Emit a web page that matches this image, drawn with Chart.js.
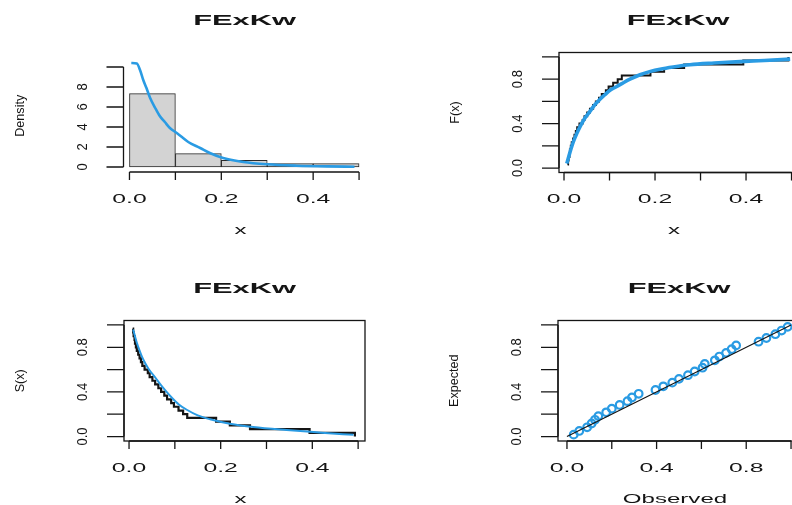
<!DOCTYPE html>
<html>
<head>
<meta charset="utf-8">
<script src="https://cdn.jsdelivr.net/npm/chart.js@4.4.1/dist/chart.umd.min.js"></script>
<style>
html, body { margin: 0; padding: 0; background: #fff; width: 792px; height: 505px; overflow: hidden; }
canvas { position: absolute; left: 0; top: 0; }
</style>
</head>
<body>
<canvas id="hist" width="830" height="505"></canvas>
<canvas id="cdf" width="830" height="505"></canvas>
<canvas id="surv" width="830" height="505"></canvas>
<canvas id="pp" width="830" height="505"></canvas>
<script>
// sample (sorted), read from the ECDF / survival steps
const sample = [0.008, 0.009, 0.01, 0.012, 0.013, 0.015, 0.017, 0.02, 0.023, 0.026, 0.029, 0.034, 0.041, 0.045, 0.051,
  0.057, 0.064, 0.07, 0.077, 0.083, 0.092, 0.098, 0.108, 0.118, 0.127, 0.19, 0.22, 0.264, 0.394, 0.493]
const ecdfY = [0.033, 0.067, 0.1, 0.133, 0.167, 0.2, 0.233, 0.267, 0.3, 0.333, 0.367, 0.4, 0.433, 0.467, 0.5,
  0.533, 0.567, 0.6, 0.633, 0.667, 0.7, 0.733, 0.767, 0.8, 0.833, 0.867, 0.9, 0.933, 0.967, 1]
const survY = [0.967, 0.933, 0.9, 0.867, 0.833, 0.8, 0.767, 0.733, 0.7, 0.667, 0.633, 0.6, 0.567, 0.533, 0.5,
  0.467, 0.433, 0.4, 0.367, 0.333, 0.3, 0.267, 0.233, 0.2, 0.167, 0.133, 0.1, 0.067, 0.033, 0]

// histogram
const binMids = [0.05, 0.15, 0.25, 0.35, 0.45]
const histDensity = [7.33, 1.33, 0.67, 0.33, 0.33]

// fitted FExKw density
const densX = [0.004, 0.016, 0.023, 0.03, 0.037, 0.045, 0.056, 0.066, 0.077, 0.088, 0.103, 0.128, 0.154, 0.175,
  0.204, 0.248, 0.299, 0.364, 0.43, 0.49]
const densY = [10.4, 10.35, 9.7, 8.7, 7.9, 6.9, 5.9, 5.1, 4.5, 3.9, 3.4, 2.5, 1.9, 1.4, 0.9, 0.5, 0.27, 0.13, 0.06, 0.03]

// fitted CDF
const cdfX = [0.006, 0.013, 0.02, 0.028, 0.035, 0.046, 0.057, 0.068, 0.079, 0.09, 0.101, 0.114, 0.127, 0.145,
  0.167, 0.19, 0.211, 0.24, 0.277, 0.33, 0.387, 0.44, 0.497]
const cdfY = [0.04, 0.14, 0.23, 0.31, 0.37, 0.45, 0.51, 0.57, 0.62, 0.66, 0.7, 0.73, 0.76, 0.8, 0.84, 0.87, 0.89,
  0.91, 0.93, 0.945, 0.958, 0.968, 0.98]

// fitted survival
const survFitX = [0.009, 0.017, 0.024, 0.031, 0.042, 0.057, 0.068, 0.082, 0.093, 0.108, 0.126, 0.15, 0.177, 0.22,
  0.271, 0.344, 0.42, 0.49]
const survFitY = [0.96, 0.84, 0.76, 0.69, 0.61, 0.53, 0.47, 0.4, 0.35, 0.29, 0.24, 0.19, 0.155, 0.115, 0.085, 0.058,
  0.035, 0.015]

// P-P plot
const ppObserved = [0.03, 0.055, 0.09, 0.11, 0.125, 0.14, 0.175, 0.2, 0.235, 0.27, 0.29, 0.32, 0.395, 0.43, 0.47,
  0.5, 0.54, 0.57, 0.605, 0.615, 0.66, 0.68, 0.71, 0.735, 0.755, 0.855, 0.89, 0.93, 0.958, 0.985]
const ppExpected = [0.017, 0.05, 0.083, 0.117, 0.15, 0.183, 0.217, 0.25, 0.283, 0.317, 0.35, 0.383, 0.417, 0.45,
  0.483, 0.517, 0.55, 0.583, 0.617, 0.65, 0.683, 0.717, 0.75, 0.783, 0.817, 0.85, 0.883, 0.917, 0.95, 0.983]
const ppLine = [0, 1]

// axis ticks
const xTicksHalf = [0, 0.1, 0.2, 0.3, 0.4, 0.5]
const xLabelsHalf = ['0.0', '', '0.2', '', '0.4', '']
const xTicksUnit = [0, 0.2, 0.4, 0.6, 0.8, 1]
const xLabelsUnit = ['0.0', '', '0.4', '', '0.8', '']
const yTicksHist = [0, 2, 4, 6, 8, 10]
const yLabelsHist = ['0', '2', '4', '6', '8', '']
const yTicksUnit = [0, 0.2, 0.4, 0.6, 0.8, 1]
const yLabelsUnit = ['0.0', '', '0.4', '', '0.8', '']

const BLUE = '#2a9be3'
const INK = '#151515'
const W = 830, H = 505

function pts(xs, ys) {
  return xs.map((x, i) => ({x: x, y: ys[i]}))
}

function drawText(ctx, str, x, y, size, a, b, bold, rot) {
  ctx.save()
  ctx.translate(x, y)
  if (rot) ctx.rotate(-Math.PI / 2)
  ctx.scale(a, b)
  ctx.font = (bold ? 'bold ' : '') + size + 'px "Liberation Sans", Arial, sans-serif'
  ctx.fillStyle = INK
  ctx.textAlign = 'center'
  ctx.textBaseline = 'middle'
  ctx.fillText(str, 0, 0)
  ctx.restore()
}

// R style axes, box and titles
function rAxes(cfg) {
  return {
    id: 'rAxes',
    afterDraw(chart) {
      const ctx = chart.ctx
      const area = chart.chartArea
      const xs = chart.scales.x, ys = chart.scales.y
      const mid = (area.left + area.right) / 2
      ctx.save()
      ctx.strokeStyle = INK
      ctx.lineWidth = 1.3

      if (cfg.box) ctx.strokeRect(area.left, area.top, area.right - area.left, area.bottom - area.top)

      // x axis
      const x0 = xs.getPixelForValue(cfg.xTicks[0])
      const x1 = xs.getPixelForValue(cfg.xTicks[cfg.xTicks.length - 1])
      ctx.beginPath()
      ctx.moveTo(x0, area.bottom)
      ctx.lineTo(x1, area.bottom)
      cfg.xTicks.forEach(v => {
        const px = xs.getPixelForValue(v)
        ctx.moveTo(px, area.bottom)
        ctx.lineTo(px, area.bottom + 8)
      })
      // y axis
      const y0 = ys.getPixelForValue(cfg.yTicks[0])
      const y1 = ys.getPixelForValue(cfg.yTicks[cfg.yTicks.length - 1])
      ctx.moveTo(area.left, y0)
      ctx.lineTo(area.left, y1)
      cfg.yTicks.forEach(v => {
        const py = ys.getPixelForValue(v)
        ctx.moveTo(area.left - 17, py)
        ctx.lineTo(area.left, py)
      })
      ctx.stroke()

      cfg.xTicks.forEach((v, i) => {
        if (cfg.xLabels[i]) drawText(ctx, cfg.xLabels[i], xs.getPixelForValue(v), area.bottom + 27, 13, 1.9, 1, false, false)
      })
      cfg.yTicks.forEach((v, i) => {
        if (cfg.yLabels[i]) drawText(ctx, cfg.yLabels[i], area.left - 41, ys.getPixelForValue(v), 13, 1, 1.15, false, true)
      })

      drawText(ctx, cfg.title, mid, area.top - cfg.titleGap, 14, 2.2, 1, true, false)
      drawText(ctx, cfg.xTitle, mid - 4, area.bottom + 58, 13, 1.85, 1, false, false)
      drawText(ctx, cfg.yTitle, area.left - 103, (area.top + area.bottom) / 2, 12, 1.05, 1, false, true)
      ctx.restore()
    }
  }
}

function baseOptions(area, xr, yr) {
  return {
    responsive: false,
    animation: false,
    devicePixelRatio: 1,
    layout: {padding: {left: area[0], right: W - area[1], top: area[2], bottom: H - area[3]}},
    plugins: {legend: {display: false}, tooltip: {enabled: false}},
    scales: {
      x: {type: 'linear', display: false, offset: false, min: xr[0], max: xr[1]},
      y: {type: 'linear', display: false, min: yr[0], max: yr[1]}
    }
  }
}

// top left: histogram + density
new Chart(document.getElementById('hist'), {
  type: 'bar',
  data: {
    datasets: [
      {type: 'line', data: pts(densX, densY), borderColor: BLUE, borderWidth: 2.6, pointRadius: 0,
        cubicInterpolationMode: 'monotone', order: 0},
      {data: pts(binMids, histDensity), backgroundColor: '#d3d3d3', borderColor: '#2a2a2a', borderWidth: 1,
        borderSkipped: false, barPercentage: 1, categoryPercentage: 1, order: 1}
    ]
  },
  options: baseOptions([123.5, 365.5, 59.5, 172], [-0.013, 0.514], [-0.5, 10.75]),
  plugins: [rAxes({box: false, title: 'FExKw', titleGap: 38, xTitle: 'x', yTitle: 'Density',
    xTicks: xTicksHalf, xLabels: xLabelsHalf, yTicks: yTicksHist, yLabels: yLabelsHist})]
})

// top right: ecdf + fitted cdf
new Chart(document.getElementById('cdf'), {
  type: 'line',
  data: {
    datasets: [
      {data: pts(cdfX, cdfY), borderColor: BLUE, borderWidth: 3.6, pointRadius: 0, cubicInterpolationMode: 'monotone', order: 0},
      {data: pts(sample, ecdfY), borderColor: INK, borderWidth: 2, pointRadius: 0, stepped: 'before', order: 1}
    ]
  },
  options: baseOptions([559, 797, 52.5, 172.5], [-0.011, 0.512], [-0.04, 1.04]),
  plugins: [rAxes({box: true, title: 'FExKw', titleGap: 31, xTitle: 'x', yTitle: 'F(x)',
    xTicks: xTicksHalf, xLabels: xLabelsHalf, yTicks: yTicksUnit, yLabels: yLabelsUnit})]
})

// bottom left: survival + fitted survival
new Chart(document.getElementById('surv'), {
  type: 'line',
  data: {
    datasets: [
      {data: pts(survFitX, survFitY), borderColor: BLUE, borderWidth: 2, pointRadius: 0, cubicInterpolationMode: 'monotone', order: 0},
      {data: pts(sample, survY), borderColor: INK, borderWidth: 2.2, pointRadius: 0, stepped: 'before', order: 1}
    ]
  },
  options: baseOptions([124, 365, 320.5, 441], [-0.011, 0.515], [-0.04, 1.04]),
  plugins: [rAxes({box: true, title: 'FExKw', titleGap: 31, xTitle: 'x', yTitle: 'S(x)',
    xTicks: xTicksHalf, xLabels: xLabelsHalf, yTicks: yTicksUnit, yLabels: yLabelsUnit})]
})

// bottom right: P-P plot
new Chart(document.getElementById('pp'), {
  type: 'scatter',
  data: {
    datasets: [
      {type: 'line', data: pts(ppLine, ppLine), borderColor: INK, borderWidth: 1.2, pointRadius: 0, order: 0},
      {data: pts(ppObserved, ppExpected), pointStyle: 'circle', pointRadius: 3.8, pointBorderWidth: 2.2,
        pointBorderColor: BLUE, pointBackgroundColor: 'rgba(0,0,0,0)', order: 1}
    ]
  },
  options: baseOptions([558, 800, 320.5, 441], [-0.04, 1.04], [-0.04, 1.04]),
  plugins: [rAxes({box: true, title: 'FExKw', titleGap: 31, xTitle: 'Observed', yTitle: 'Expected',
    xTicks: xTicksUnit, xLabels: xLabelsUnit, yTicks: yTicksUnit, yLabels: yLabelsUnit})]
})
</script>
</body>
</html>
